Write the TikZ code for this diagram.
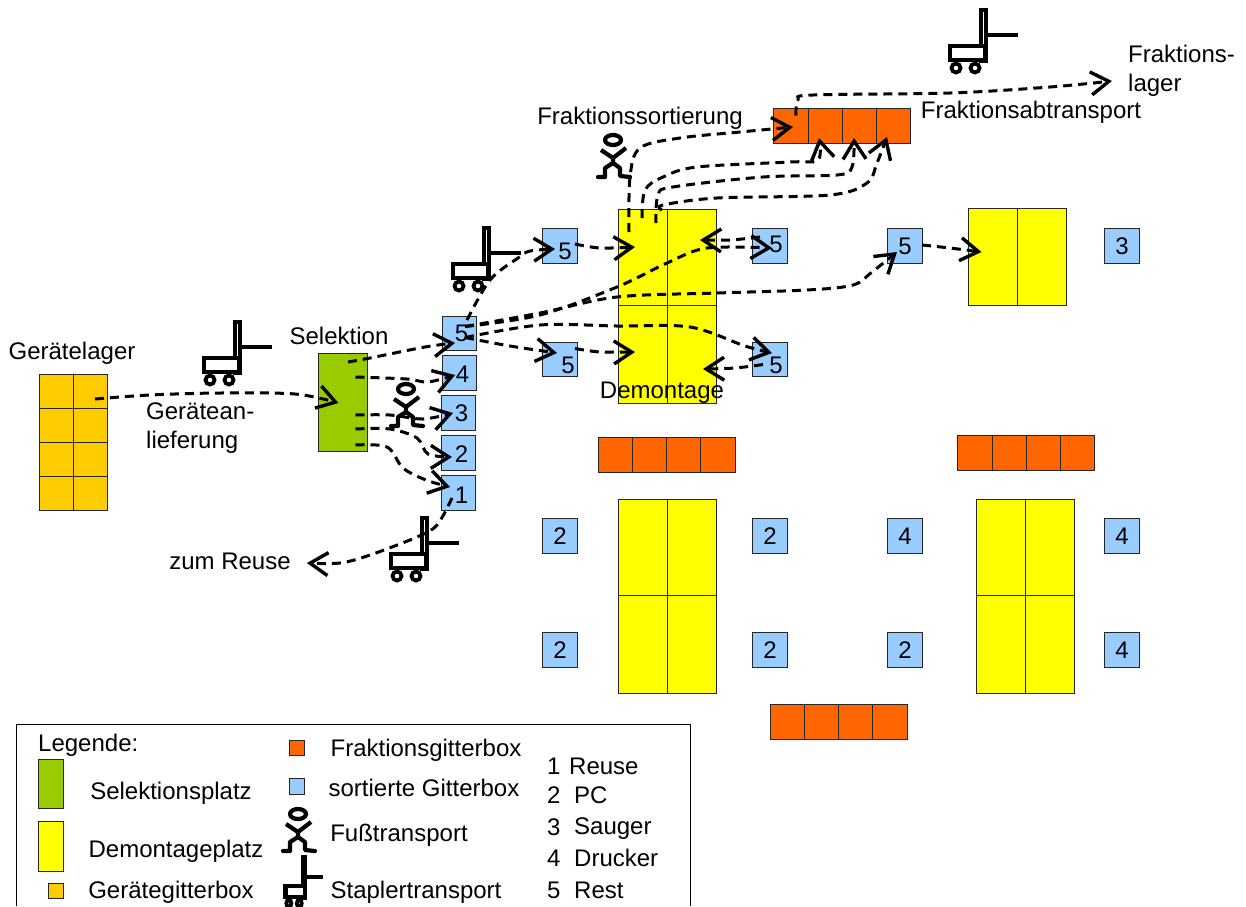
\documentclass[tikz,border=0pt]{standalone}
\usepackage{fontspec}
\setmainfont{Liberation Sans}
\usetikzlibrary{arrows.meta}
\definecolor{bluec}{HTML}{99CCFF}
\definecolor{orangec}{HTML}{FF6600}
\definecolor{goldc}{HTML}{FFCC00}
\definecolor{greenc}{HTML}{99CC00}
\definecolor{yellowc}{HTML}{FFFF00}
\tikzset{
 x=1pt,y=-1pt,
 lab/.style={font=\fontsize{24}{29}\selectfont,inner sep=0pt,align=left},
 every label/.style={font=\fontsize{24}{29}\selectfont,inner sep=0pt},
 box/.style={draw=black!85,line width=1pt,inner sep=0pt,minimum width=#1},
 bluebox/.style={box=34.5pt,minimum height=34.5pt,fill=bluec,font=\fontsize{24}{29}\selectfont},
 slab/.style={box=98pt,minimum height=97pt,fill=yellowc},
 dbllab/.style={box=98pt,minimum height=194pt,fill=yellowc},
 orangebar/.style={box=137pt,minimum height=35pt,fill=orangec},
 div/.style={draw=black!85,line width=1pt},
 flow/.style={draw=black,line width=3pt,dash pattern=on 9pt off 6pt,-{Straight Barb[length=18pt,width=23pt,line width=3.4pt]}},
 stapler/.pic={
  \draw[line width=3.5pt,fill=white] (32,0) rectangle (37,51);
  \draw[line width=4.2pt,fill=white] (1,36) rectangle (36,50);
  \draw[line width=3.2pt] (38,25) -- (69,25);
  \draw[line width=3.8pt] (7,58) circle (4.5) (26,58) circle (4.5);
 },
 person/.pic={
  \draw[line width=4.2pt,line join=round]
   (0,0) ellipse (8 and 5)
   (-12,10) -- (0,18) -- (13,8)
   (0,18) -- (0,23);
  \draw[line width=4.2pt,line cap=round,line join=round]
   (-15,37) -- (-8,37) -- (-8,28) -- (0,23) -- (7,28) -- (7,36) -- (17,37);
 },
}
\newcommand{\pts}[1]{plot[smooth,tension=.55] coordinates {#1}}
\begin{document}
\begin{tikzpicture}
\useasboundingbox (0,0) rectangle (1246,906);
% store
\node[box=68pt,minimum height=136pt,fill=goldc] (lager) at (73,442) {};
\draw[div] (73,374) -- (73,510) (39,408) -- (107,408) (39,442) -- (107,442) (39,476) -- (107,476);
\node[box=49pt,minimum height=98pt,fill=greenc] (sel) at (342.5,402) {};
% yellow places
\node[dbllab] (demA) at (667,306) {};
\draw[div] (667,209) -- (667,403) (618,305) -- (716,305);
\node[slab] (demB) at (1017.5,257) {};
\draw[div] (1017.5,208) -- (1017.5,306);
\node[dbllab] (demC) at (667,596) {};
\draw[div] (667,499) -- (667,693) (618,595) -- (716,595);
\node[dbllab] (demD) at (1025,596) {};
\draw[div] (1025,499) -- (1025,693) (976,595) -- (1074,595);
% orange
\node[orangebar] (frA) at (842,125.5) {};
\draw[div] (808,108) -- (808,143) (842,108) -- (842,143) (876,108) -- (876,143);
\node[orangebar] (frB) at (666.5,454.5) {};
\draw[div] (632,437) -- (632,472) (666,437) -- (666,472) (700,437) -- (700,472);
\node[orangebar] (frC) at (1026,453) {};
\draw[div] (992,436) -- (992,470) (1026,436) -- (1026,470) (1060,436) -- (1060,470);
\node[orangebar] (frD) at (838.5,722) {};
\draw[div] (804,705) -- (804,739) (838,705) -- (838,739) (872,705) -- (872,739);
% blue boxes
\node[bluebox,label={[xshift=2pt]center:5}] (b5) at (459.5,333.5) {};
\node[bluebox,label={[xshift=3pt,yshift=-1pt]center:4}] (b4) at (459.5,373) {};
\node[bluebox,label={[xshift=3pt]center:3}] (b3) at (458.5,413) {};
\node[bluebox,label={[xshift=3pt,yshift=-1pt]center:2}] (b2) at (458.5,453) {};
\node[bluebox,label={[xshift=3pt,yshift=-2pt]center:1}] (b1) at (458.5,493) {};
\node[bluebox,label={[xshift=5pt,yshift=-5pt]center:5}] (c5a) at (560,246) {};
\node[bluebox,label={[xshift=8pt,yshift=-6pt]center:5}] (c5b) at (560,359.5) {};
\node[bluebox,label={[xshift=6pt,yshift=2pt]center:5}] (d5a) at (770,246) {};
\node[bluebox,label={[xshift=6pt,yshift=-6pt]center:5}] (d5b) at (770,359.5) {};
\node[bluebox] (e5) at (905,246) {5};
\node[bluebox] (e3) at (1122,246) {3};
\node[bluebox] (f2a) at (560,536) {2};
\node[bluebox] (f2b) at (770,536) {2};
\node[bluebox] (f4a) at (905,536) {4};
\node[bluebox] (f4b) at (1122,536) {4};
\node[bluebox] (g2a) at (560,650) {2};
\node[bluebox] (g2b) at (770,650) {2};
\node[bluebox] (g2c) at (905,650) {2};
\node[bluebox] (g4a) at (1122,650) {4};
% staplers and people
\pic at (203,322) {stapler};
\pic at (452,228) {stapler};
\pic at (390,518) {stapler};
\pic at (949,10) {stapler};
\pic at (613,140) {person};
\pic at (406,389) {person};
% labels
\node[lab] (tLager) at (72,353) {Gerätelager};
\node[lab] (tSel) at (339,336) {Selektion};
\node[lab,anchor=west] (tAnl) at (146,428) {Geräte­an-\\lieferung};
\node[lab] (tReuse) at (230,561) {zum Reuse};
\node[lab] (tSort) at (640,118) {Fraktionssortierung};
\node[lab] (tAb) at (1031,112) {Fraktionsabtransport};
\node[lab,anchor=west] (tFl) at (1128,71) {Fraktions-\\lager};
% connectors
\draw[flow] \pts{([shift={(22,-43)}]lager.center) (150,395) (220,393) (295,394) ([shift={(-4,1)}]sel.center)};
\draw[flow] \pts{([shift={(5.5,-40)}]sel.center) (370,358) (425,347) ([shift={(-4.5,9.5)}]b5.center)};
\draw[flow] \pts{([shift={(13,-25)}]sel.center) (407,379) (428,382) ([shift={(-4.5,2)}]b4.center)};
\draw[flow] \pts{([shift={(13,13)}]sel.center) (390,415) (423,419) ([shift={(-5.5,0)}]b3.center)};
\draw[flow] \pts{([shift={(13,27)}]sel.center) (390,429) (417,438) (428,454) ([shift={(-6.5,4)}]b2.center)};
\draw[flow] \pts{([shift={(13,43)}]sel.center) (387,447) (403,468) (426,480) ([shift={(-8.5,-6)}]b1.center)};
\draw[flow] \pts{([shift={(-6.5,5)}]b1.center) (437,525) (417,537) (370,555) (340,563) ([shift={(16,2)}]tReuse.east)};
\draw[flow] \pts{([shift={(7.5,-13.5)}]b5.center) (490,280) (518,258) (530,251) ([shift={(-5,3)}]c5a.center)};
\draw[flow] \pts{([shift={(15,-2)}]c5a.center) (600,248) ([shift={(-32,-59)}]demA.center)};
\draw[flow] \pts{([shift={(5.5,-7)}]b5.center) (540,315) (617,287) (667,263) (707,248) ([shift={(2,2)}]d5a.center)};
\draw[flow] \pts{([shift={(5.5,-7)}]b5.center) (540,313) (617,297) (717,293) (807,290) (853,285) (872,272) ([shift={(-8,6)}]e5.center)};
\draw[flow] \pts{([shift={(5.5,4)}]b5.center) (540,325) (617,326) (690,327) (745,346) ([shift={(2,-6.5)}]d5b.center)};
\draw[flow] \pts{([shift={(5.5,4)}]b5.center) (510,346) ([shift={(-3,-6.5)}]c5b.center)};
\draw[flow] \pts{([shift={(15,-11)}]c5b.center) (600,352) ([shift={(-32,46)}]demA.center)};
\draw[flow] \pts{([shift={(-7,5)}]d5b.center) (735,368) ([shift={(36,63)}]demA.center)};
\draw[flow] \pts{([shift={(-10,-9)}]d5a.center) (730,240) ([shift={(33,-66)}]demA.center)};
\draw[flow] \pts{([shift={(17,-1)}]e5.center) (950,248) ([shift={(-36,-5)}]demB.center)};
\draw[flow] \pts{([shift={(-38,-74)}]demA.center) (630,177) (640,148) (680,138) (740,132) ([shift={(-49,1.5)}]frA.center)};
\draw[flow] \pts{([shift={(-25,-88)}]demA.center) (645,190) (663,177) (697,167) (790,162) (818,160) ([shift={(-23,12.5)}]frA.center)};
\draw[flow] \pts{([shift={(-11,-83)}]demA.center) (658,195) (673,187) (763,177) (837,175) (852,167) ([shift={(12,12.5)}]frA.center)};
\draw[flow] \pts{([shift={(-5,-96)}]demA.center) (663,205) (717,198) (830,195) (867,183) (877,163) ([shift={(45,11.5)}]frA.center)};
\draw[flow] \pts{([shift={(-46,-10)}]frA.center) (798,100) (813,95) (950,93) (1050,87) ([shift={(-16,10)}]tFl.west)};
% Demontage over the yellow box
\node[lab] (tDem) at (662,393) {Demontage};
% legend
\draw[line width=1pt] (16,906) -- (16,724) -- (690,724) -- (690,906);
\node[lab,anchor=west] (lTitle) at (38,745) {Legende:};
\node[box=25pt,minimum height=49pt,fill=greenc] (lSel) at (50.5,783.5) {};
\node[box=25pt,minimum height=50pt,fill=yellowc] (lDem) at (50.5,846) {};
\node[box=15pt,minimum height=15pt,fill=goldc] (lGer) at (55.5,890.5) {};
\node[box=15pt,minimum height=15pt,fill=orangec] (lFr) at (296.5,747.5) {};
\node[box=15pt,minimum height=16pt,fill=bluec] (lSo) at (296.5,786) {};
\pic at (298,814) {person};
\pic[xscale=.55,yscale=.8] at (285,857) {stapler};
\node[lab] (l1) at (171,793) {Selektionsplatz};
\node[lab] (l2) at (176,851) {Demontageplatz};
\node[lab] (l3) at (171,892) {Gerätegitterbox};
\node[lab] (l4) at (426,750) {Fraktionsgitterbox};
\node[lab] (l5) at (424,788) {sortierte Gitterbox};
\node[lab] (l6) at (399,835) {Fußtransport};
\node[lab] (l7) at (416,892) {Staplertransport};
\node[lab,anchor=west] (n1) at (547,766) {1};
\node[lab,anchor=west] (n1t) at (569,766) {Reuse};
\node[lab,anchor=west] (n2) at (547,795) {2};
\node[lab,anchor=west] (n2t) at (574,795) {PC};
\node[lab,anchor=west] (n3) at (547,827) {3};
\node[lab,anchor=west] (n3t) at (574,829) {Sauger};
\node[lab,anchor=west] (n4) at (547,858) {4};
\node[lab,anchor=west] (n4t) at (574,858) {Drucker};
\node[lab,anchor=west] (n5) at (547,890) {5};
\node[lab,anchor=west] (n5t) at (574,890) {Rest};
\end{tikzpicture}
\end{document}
